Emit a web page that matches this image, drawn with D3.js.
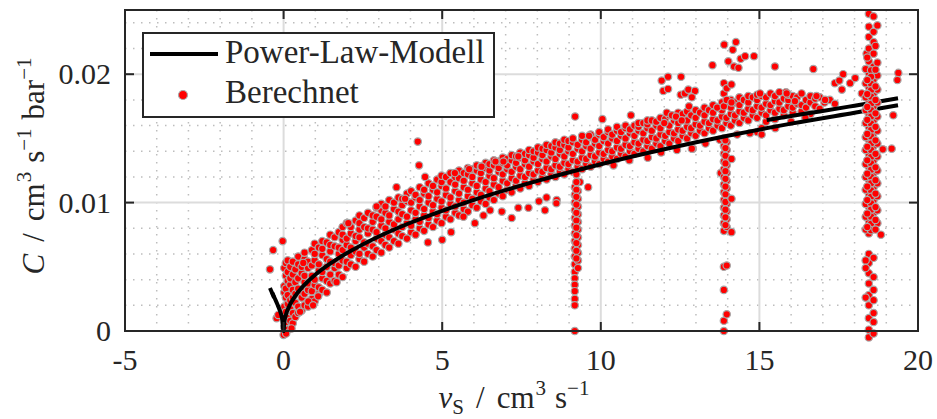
<!DOCTYPE html>
<html>
<head>
<meta charset="utf-8">
<script src="https://cdn.jsdelivr.net/npm/d3@7"></script>
<style>
  body { margin: 0; background: #fff; }
  svg { display: block; }
  text { font-family: "Liberation Serif", "DejaVu Serif", serif; fill: #262626; }
</style>
</head>
<body>
<svg id="chart" width="937" height="419"></svg>
<script>
// axis ticks
const xTicks = [-5, 0, 5, 10, 15, 20];
const yTicks = [0, 0.01, 0.02];

// power-law model, C in 1e-3 units
const modelV = [-0.36, -0.28, -0.2, -0.12, -0.05, 0, 0.02, 0.05, 0.1, 0.2, 0.4, 0.7, 1, 1.5, 2, 3, 4, 5, 6, 8, 10, 12, 14, 16, 18, 19.37];
const modelC = [3.0, 2.55, 2.1, 1.6, 1.0, 0, 0.69, 1.06, 1.48, 2.05, 2.84, 3.70, 4.38, 5.30, 6.07, 7.36, 8.43, 9.36, 10.21, 11.69, 12.99, 14.15, 15.2, 16.15, 17.0, 17.58];
// second model branch (short pieces)
const model2V = [15.23, 16.0, 16.9, 18.0, 19.37];
const model2C = [16.43, 16.75, 17.1, 17.55, 18.12];
const model3V = [-0.43, -0.3];
const model3C = [3.35, 2.6];

// computed points: each row = [v, C values (1e-3) ...]
const bandRows = [
  [0.02, 0.3, 1.2, 1.9, 3.0, 3.5, 4.9],
  [0.07, 0.7, 1.5, 2.6, 3.3, 4.3, 5.3],
  [0.13, 0.1, 1.0, 2.1, 2.8, 3.9, 4.6, 5.5],
  [0.21, 0.8, 1.7, 2.4, 3.6, 4.1, 5.0],
  [0.29, 0.6, 1.4, 2.6, 3.2, 4.4, 5.4],
  [0.37, 1.1, 2.2, 2.9, 3.8, 4.8],
  [0.46, 1.4, 1.9, 3.3, 4.1, 5.2, 5.8],
  [0.57, 1.6, 2.6, 3.1, 4.5, 5.0],
  [0.66, 2.0, 2.9, 3.8, 4.3, 5.6, 6.1],
  [0.77, 1.9, 3.2, 3.7, 4.9, 5.4],
  [0.89, 2.5, 3.1, 4.3, 5.1, 6.3],
  [0.98, 2.3, 3.6, 4.0, 5.5, 6.0, 6.8],
  [1.11, 2.9, 3.4, 4.7, 5.2, 6.5],
  [1.22, 3.2, 4.1, 4.6, 5.9, 6.4, 7.0],
  [1.36, 3.0, 3.9, 5.0, 5.6, 6.9],
  [1.47, 3.7, 4.4, 5.4, 6.2, 6.7, 7.5],
  [1.61, 3.9, 4.9, 5.3, 6.6, 7.3],
  [1.74, 4.4, 5.1, 6.0, 6.5, 7.7],
  [1.86, 4.2, 5.5, 6.3, 7.1, 7.5, 8.1],
  [1.99, 4.9, 5.4, 6.7, 7.2, 8.4],
  [2.12, 5.2, 5.9, 6.5, 7.6, 8.1],
  [2.27, 5.0, 6.2, 7.0, 7.4, 8.6],
  [2.39, 5.6, 6.0, 7.3, 7.9, 8.4, 9.0],
  [2.54, 5.4, 6.5, 6.9, 8.1, 8.8],
  [2.66, 6.0, 6.8, 7.6, 8.0, 9.2],
  [2.81, 5.8, 6.6, 7.9, 8.5, 9.0],
  [2.93, 6.3, 7.2, 7.7, 8.9, 9.6],
  [3.08, 6.1, 7.0, 8.2, 8.7, 9.4, 9.9],
  [3.21, 6.7, 7.5, 8.0, 9.2, 9.7],
  [3.33, 6.5, 7.3, 8.5, 9.0, 10.2],
  [3.48, 7.0, 7.9, 8.3, 9.5, 10.0],
  [3.62, 6.8, 7.6, 8.7, 9.3, 10.4],
  [3.74, 7.4, 8.1, 9.1, 9.8, 10.3],
  [3.89, 7.2, 8.4, 8.9, 10.1, 10.7],
  [4.02, 7.7, 8.2, 9.4, 10.0, 10.9],
  [4.16, 7.5, 8.7, 9.2, 10.4, 10.6],
  [4.29, 8.0, 8.5, 9.7, 10.2, 11.2],
  [4.43, 7.8, 9.0, 9.5, 10.7, 11.0],
  [4.57, 8.3, 8.8, 10.0, 10.5, 11.5],
  [4.71, 8.1, 9.3, 9.8, 11.0, 11.3],
  [4.84, 8.6, 9.1, 10.3, 10.8, 11.8],
  [4.98, 8.4, 9.6, 10.1, 11.3, 11.6, 12.1],
  [5.12, 8.9, 9.4, 10.6, 11.1, 12.0],
  [5.26, 8.7, 9.9, 10.4, 11.6, 12.3],
  [5.41, 9.2, 9.7, 10.9, 11.4, 12.0],
  [5.53, 9.0, 10.2, 10.7, 11.9, 12.5],
  [5.68, 9.5, 10.0, 11.2, 11.7, 12.3],
  [5.81, 9.3, 10.5, 11.0, 12.2, 12.7],
  [5.95, 9.8, 10.3, 11.5, 12.0, 12.6],
  [6.09, 9.6, 10.8, 11.3, 12.5, 12.9],
  [6.22, 10.1, 10.6, 11.8, 12.3, 12.8],
  [6.37, 9.9, 11.1, 11.6, 12.7, 13.1],
  [6.49, 10.4, 10.9, 12.1, 12.5, 13.0],
  [6.63, 10.2, 11.4, 11.9, 12.9, 13.3],
  [6.78, 10.7, 11.2, 12.4, 12.7, 13.2],
  [6.91, 10.5, 11.7, 12.2, 13.1, 13.5],
  [7.05, 11.0, 11.5, 12.6, 12.9, 13.4],
  [7.19, 10.8, 11.9, 12.4, 13.3, 13.7],
  [7.33, 11.3, 11.7, 12.8, 13.1, 13.6],
  [7.46, 11.1, 12.1, 12.6, 13.5, 13.9],
  [7.61, 11.5, 12.0, 13.0, 13.3, 13.8],
  [7.74, 11.3, 12.3, 12.8, 13.7, 14.1],
  [7.88, 11.8, 12.2, 13.2, 13.5, 14.0],
  [8.02, 11.6, 12.5, 13.0, 13.9, 14.3],
  [8.16, 12.0, 12.4, 13.4, 13.7, 14.2],
  [8.29, 11.8, 12.7, 13.2, 14.1, 14.5],
  [8.44, 12.2, 12.6, 13.6, 13.9, 14.4],
  [8.57, 12.0, 12.9, 13.4, 14.3, 14.7],
  [8.71, 12.4, 12.8, 13.8, 14.1, 14.6],
  [8.85, 12.2, 13.1, 13.6, 14.5, 14.9],
  [8.98, 12.6, 13.0, 14.0, 14.3, 14.8],
  [9.12, 12.4, 13.3, 13.8, 14.7, 15.0],
  [9.27, 12.8, 13.2, 14.2, 14.5],
  [9.41, 12.6, 13.5, 14.0, 14.9, 15.2],
  [9.54, 13.0, 13.4, 14.4, 14.7],
  [9.68, 12.8, 13.7, 14.2, 15.1, 15.3],
  [9.82, 13.2, 13.6, 14.6, 14.9],
  [9.95, 13.0, 13.9, 14.4, 15.3, 15.5],
  [10.09, 13.4, 13.8, 14.8, 15.1],
  [10.23, 13.2, 14.1, 14.6, 15.5, 15.7],
  [10.36, 13.6, 14.0, 15.0, 15.3],
  [10.51, 13.4, 14.3, 14.8, 15.6, 15.9],
  [10.64, 13.8, 14.2, 15.2, 15.5],
  [10.78, 13.6, 14.5, 15.0, 15.8, 16.0],
  [10.92, 14.0, 14.4, 15.4, 15.7],
  [11.06, 13.8, 14.7, 15.2, 16.0],
  [11.19, 14.2, 14.6, 15.6, 15.9, 16.2],
  [11.34, 14.0, 14.9, 15.4, 16.2],
  [11.47, 14.4, 14.8, 15.8, 16.1, 16.4],
  [11.61, 14.2, 15.1, 15.6, 16.4],
  [11.75, 14.6, 15.0, 16.0, 16.3],
  [11.88, 14.4, 15.3, 15.8, 16.6],
  [12.03, 14.8, 15.2, 16.2, 16.5],
  [12.16, 14.6, 15.5, 16.0, 16.8],
  [12.31, 15.0, 15.4, 16.4, 16.7],
  [12.44, 14.8, 15.7, 16.2, 17.0],
  [12.58, 15.2, 15.6, 16.6, 16.9],
  [12.72, 15.0, 15.9, 16.4, 17.1],
  [12.85, 15.4, 15.8, 16.8],
  [12.99, 15.2, 16.1, 16.6, 17.2],
  [13.13, 15.6, 16.0, 17.0],
  [13.27, 15.4, 16.3, 16.8, 17.4],
  [13.41, 15.8, 16.2, 17.2],
  [13.54, 15.6, 16.5, 17.0, 17.6],
  [13.68, 16.0, 16.4, 17.4],
  [13.82, 15.8, 16.7, 17.2, 17.8],
  [13.96, 16.2, 16.6, 17.6],
  [14.10, 16.0, 16.9, 17.4, 18.0],
  [14.23, 16.4, 16.8, 17.8],
  [14.37, 16.2, 17.1, 17.6, 18.2],
  [14.51, 16.6, 17.0, 18.0],
  [14.65, 16.4, 17.3, 17.8, 18.3],
  [14.79, 16.8, 17.2, 18.2],
  [14.93, 15.5, 16.6, 17.5, 18.0, 18.4],
  [15.07, 15.8, 17.0, 17.4, 18.3],
  [15.21, 16.3, 16.8, 17.7, 18.2],
  [15.35, 17.2, 17.6, 18.5],
  [15.49, 16.5, 17.0, 17.9, 18.3],
  [15.63, 17.3, 17.8, 18.6],
  [15.77, 16.8, 17.2, 18.1],
  [15.91, 17.5, 18.0, 18.4],
  [16.05, 17.0, 17.4, 18.3],
  [16.19, 17.7, 18.2],
  [16.33, 17.1, 17.6, 18.5],
  [16.47, 17.4, 18.0],
  [16.61, 16.9, 17.8, 18.3],
  [16.76, 17.5, 18.1],
  [16.90, 17.3, 18.2],
  [17.05, 17.8],
  [17.22, 18.0],
  [17.38, 17.7]
];

// vertical clusters at v ≈ 9.2 and 13.9
const columnRows = [
  [9.18, 11.2, 10.6, 10.0, 9.4, 8.8, 8.2, 7.6, 7.0, 6.4, 5.8, 5.2, 4.6, 4.1, 3.6, 3.1, 2.5, 2.0, 0.0],
  [9.28, 10.9, 10.3, 9.7, 9.1, 8.5, 7.9, 7.3, 6.7, 6.1, 5.5, 4.9],
  [9.23, 11.6, 12.2, 11.0, 10.45, 9.85, 9.2, 8.6, 8.05, 7.45, 6.85, 6.25, 5.65],
  [13.88, 19.3, 18.5, 17.5, 15.0, 14.4, 13.8, 13.2, 12.6, 12.0, 11.4, 10.8, 10.2, 9.6, 9.0, 8.4, 7.8, 5.0, 3.2, 0.8, 0.0],
  [13.97, 18.9, 18.0, 14.7, 14.1, 13.5, 12.9, 12.3, 11.7, 11.1, 10.5, 9.9, 9.3, 8.7, 8.1, 5.1, 1.3],
  [13.93, 14.85, 14.25, 13.65, 13.05, 12.45, 11.85, 11.25, 10.65, 10.05, 9.45, 8.85, 8.25],
  [14.12, 19.2, 17.8, 13.4, 10.3, 7.7]
];
// vertical cluster at v ≈ 18.5 (drawn over the model lines)
const lastColumnRows = [
  [18.45, 24.7, 23.7, 22.9, 22.0, 21.0, 20.1, 19.0, 18.0, 16.9, 15.9, 14.9, 13.8, 12.8, 11.8, 10.7, 9.7, 8.6, 7.6, 6.0, 5.3, 4.5, 3.7, 2.8, 2.0, 1.0, 0.1, -0.5],
  [18.60, 24.5, 23.3, 22.5, 21.6, 20.6, 19.6, 18.5, 17.5, 16.4, 15.4, 14.4, 13.3, 12.3, 11.2, 10.2, 9.2, 8.1, 5.7, 4.2, 3.2, 2.4, 1.4, 0.7, -0.2],
  [18.35, 20.4, 19.3, 18.2, 17.2, 16.2, 15.1, 14.1, 13.0, 12.0, 11.0, 9.9, 8.9, 7.9, 5.5, 4.9, 2.6],
  [18.72, 23.8, 20.9, 19.9, 18.8, 17.8, 16.7, 15.6, 14.6, 13.6, 12.5, 11.5, 10.5, 9.4, 8.4],
  [18.52, 20.3, 19.8, 19.25, 18.75, 18.25, 17.7, 17.2, 16.7, 16.15, 15.65, 15.15, 14.6, 14.1, 13.55, 13.05, 12.55, 12.0, 11.5, 10.95, 10.45, 9.95, 9.45, 8.9, 8.35, 7.85],
  [18.40, 21.3, 19.55, 18.45, 17.45, 16.45, 15.35, 14.35, 13.3, 12.25, 11.25, 10.2, 9.15, 8.1],
  [18.66, 22.2, 20.35, 19.05, 18.0, 16.95, 15.9, 14.85, 13.8, 12.75, 11.75, 10.7, 9.65, 8.65, 7.9]
];

// scattered single points [v, C (1e-3)]
const outliers = [
  [-0.43, 4.8], [-0.33, 6.3], [-0.03, 7.0], [-0.22, 1.0], [-0.17, 1.25], [0.0, -0.3], [0.25, 0.2], [0.08, -0.2],
  [0.52, 1.5], [0.78, 2.3], [0.93, 2.0], [1.09, 2.7], [1.67, 3.8], [0.62, 5.3], [2.04, 8.4], [2.93, 9.7],
  [3.56, 11.2], [3.83, 10.3], [4.23, 14.75], [4.27, 12.9], [4.46, 12.0], [4.55, 6.9], [5.0, 7.1], [5.28, 7.7],
  [5.67, 8.9], [6.03, 8.4], [6.3, 9.0], [6.51, 9.4], [6.88, 9.3], [7.19, 8.8], [7.4, 9.6], [7.72, 9.6],
  [8.05, 10.1], [8.24, 9.4], [8.29, 10.4], [8.61, 10.2], [8.6, 9.95], [9.34, 11.6], [9.6, 11.2],
  [5.4, 12.3], [5.85, 12.6], [6.24, 12.8], [6.68, 13.2], [6.93, 13.2], [7.4, 13.6],
  [9.19, 16.7], [10.05, 16.5], [9.63, 15.2], [10.95, 16.8], [12.0, 16.2],
  [11.92, 19.5], [12.12, 19.8], [12.53, 19.8], [11.97, 18.7], [12.12, 18.85], [12.52, 18.4], [12.65, 18.5],
  [12.76, 18.8], [12.97, 18.7], [12.87, 18.2], [12.78, 17.5], [12.08, 17.0], [12.24, 16.8], [12.37, 16.7],
  [12.55, 16.4], [13.67, 17.4], [15.02, 18.5], [15.84, 18.6],
  [13.89, 22.3], [14.26, 22.5], [14.16, 21.9], [14.02, 21.0], [14.2, 20.6], [14.34, 20.5], [14.41, 21.2],
  [14.55, 21.4], [14.83, 21.4], [13.52, 20.7], [15.49, 20.6], [16.7, 20.4], [17.64, 20.0], [17.38, 19.3],
  [17.52, 19.5], [17.86, 19.3], [18.02, 19.7], [17.6, 18.8], [19.38, 20.1], [19.35, 19.55], [19.22, 16.8],
  [19.17, 14.2], [18.89, 14.15], [18.23, 18.5], [18.38, 21.6], [18.83, 7.5], [13.78, 12.3], [12.9, 14.2],
  [16.8, 18.3], [17.07, 18.0], [16.12, 17.9], [15.86, 18.5],
  [10.9, 13.3], [11.48, 13.5], [11.9, 13.9], [12.4, 14.1], [12.87, 14.2], [13.3, 14.6], [13.75, 14.9],
  [14.3, 15.3], [14.7, 15.4], [15.07, 15.3], [15.5, 15.8], [16.0, 16.3], [16.45, 16.6], [10.4, 12.9]
];

const W = 937, H = 419;
const mLeft = 125, mRight = 918, mTop = 10, mBottom = 331;

const svg = d3.select('#chart');
svg.append('rect').attr('width', W).attr('height', H).attr('fill', '#fff');

const x = d3.scaleLinear().domain([-5, 20]).range([mLeft, mRight]);
const y = d3.scaleLinear().domain([0, 0.025]).range([mBottom, mTop]);

const rowsToPts = rows => rows.flatMap(r => r.slice(1).map(c => [r[0], c / 1000]));
const bandPts = rowsToPts(bandRows).concat(outliers.map(d => [d[0], d[1] / 1000]));
const colPts = rowsToPts(columnRows);
const lastColPts = rowsToPts(lastColumnRows);

// minor grid (dotted)
const grid = svg.append('g');
d3.range(-4, 20).filter(v => v % 5 !== 0).forEach(v => {
  grid.append('line').attr('x1', x(v)).attr('x2', x(v)).attr('y1', mTop).attr('y2', mBottom)
    .attr('stroke', '#bdbdbd').attr('stroke-width', 1.5).attr('stroke-dasharray', '1.5,6.5');
});
d3.range(1, 13).map(i => i * 0.002).filter(v => Math.abs(v - 0.01) > 1e-6 && Math.abs(v - 0.02) > 1e-6).forEach(v => {
  grid.append('line').attr('x1', mLeft).attr('x2', mRight).attr('y1', y(v)).attr('y2', y(v))
    .attr('stroke', '#bdbdbd').attr('stroke-width', 1.5).attr('stroke-dasharray', '1.5,6.5');
});
// major grid
xTicks.slice(1, -1).forEach(v => {
  grid.append('line').attr('x1', x(v)).attr('x2', x(v)).attr('y1', mTop).attr('y2', mBottom)
    .attr('stroke', '#dcdcdc').attr('stroke-width', 2);
});
yTicks.slice(1).forEach(v => {
  grid.append('line').attr('x1', mLeft).attr('x2', mRight).attr('y1', y(v)).attr('y2', y(v))
    .attr('stroke', '#dcdcdc').attr('stroke-width', 2);
});

function dots(pts) {
  svg.append('g').selectAll('circle').data(pts).enter()
    .append('circle')
    .attr('cx', d => x(d[0]))
    .attr('cy', d => y(d[1]))
    .attr('r', 3.7)
    .attr('fill', '#ff0000')
    .attr('stroke', '#a9a9a9')
    .attr('stroke-width', 1.2);
}

dots(bandPts);
dots(colPts);

const line = d3.line().x(d => x(d[0])).y(d => y(d[1] / 1000)).curve(d3.curveMonotoneX);
function modelPath(vs, cs) {
  svg.append('path').datum(vs.map((v, i) => [v, cs[i]]))
    .attr('d', line).attr('fill', 'none').attr('stroke', '#000')
    .attr('stroke-width', 4).attr('stroke-linejoin', 'round');
}
modelPath(modelV, modelC);
modelPath(model2V, model2C);
modelPath(model3V, model3C);

dots(lastColPts);

// frame with inward ticks
const frame = svg.append('g');
frame.append('rect').attr('x', mLeft).attr('y', mTop).attr('width', mRight - mLeft).attr('height', mBottom - mTop)
  .attr('fill', 'none').attr('stroke', '#262626').attr('stroke-width', 2);
xTicks.forEach(v => {
  frame.append('line').attr('x1', x(v)).attr('x2', x(v)).attr('y1', mBottom).attr('y2', mBottom - 9).attr('stroke', '#262626').attr('stroke-width', 2);
  frame.append('line').attr('x1', x(v)).attr('x2', x(v)).attr('y1', mTop).attr('y2', mTop + 9).attr('stroke', '#262626').attr('stroke-width', 2);
  frame.append('text').attr('x', x(v)).attr('y', 370).attr('text-anchor', 'middle')
    .attr('font-size', 30).text(v);
});
yTicks.forEach(v => {
  frame.append('line').attr('x1', mLeft).attr('x2', mLeft + 9).attr('y1', y(v)).attr('y2', y(v)).attr('stroke', '#262626').attr('stroke-width', 2);
  frame.append('line').attr('x1', mRight).attr('x2', mRight - 9).attr('y1', y(v)).attr('y2', y(v)).attr('stroke', '#262626').attr('stroke-width', 2);
  frame.append('text').attr('x', 111).attr('y', y(v) + 10).attr('text-anchor', 'end')
    .attr('font-size', 30).text(v === 0 ? '0' : d3.format('.2f')(v));
});

// axis labels
const xl = svg.append('text').attr('x', 514).attr('y', 408).attr('text-anchor', 'middle').attr('font-size', 31);
xl.append('tspan').attr('font-style', 'italic').text('v');
xl.append('tspan').attr('font-size', 21).attr('dy', 6).text('S');
xl.append('tspan').attr('dy', -6).attr('dx', 12).text('/');
xl.append('tspan').attr('dx', 12).text('cm');
xl.append('tspan').attr('font-size', 21).attr('dy', -13).attr('dx', 1).text('3');
xl.append('tspan').attr('dy', 13).attr('dx', 9).text('s');
xl.append('tspan').attr('font-size', 21).attr('dy', -13).text('−1');

const yl = svg.append('text').attr('transform', 'translate(44,166) rotate(-90)').attr('text-anchor', 'middle').attr('font-size', 31);
yl.append('tspan').attr('font-style', 'italic').text('C');
yl.append('tspan').attr('dx', 12).text('/');
yl.append('tspan').attr('dx', 12).text('cm');
yl.append('tspan').attr('font-size', 21).attr('dy', -13).attr('dx', 1).text('3');
yl.append('tspan').attr('dy', 13).attr('dx', 9).text('s');
yl.append('tspan').attr('font-size', 21).attr('dy', -13).text('−1');
yl.append('tspan').attr('dy', 13).attr('dx', 9).text('bar');
yl.append('tspan').attr('font-size', 21).attr('dy', -13).text('−1');

// legend
const lg = svg.append('g');
lg.append('rect').attr('x', 143).attr('y', 33).attr('width', 351).attr('height', 84)
  .attr('fill', '#fff').attr('stroke', '#262626').attr('stroke-width', 2);
lg.append('line').attr('x1', 150).attr('x2', 218).attr('y1', 54).attr('y2', 54).attr('stroke', '#000').attr('stroke-width', 4);
lg.append('circle').attr('cx', 183).attr('cy', 95).attr('r', 4.5).attr('fill', '#ff0000').attr('stroke', '#a9a9a9').attr('stroke-width', 1.2);
lg.append('text').attr('x', 225).attr('y', 63).attr('font-size', 33).text('Power-Law-Modell');
lg.append('text').attr('x', 225).attr('y', 103).attr('font-size', 33).text('Berechnet');
</script>
</body>
</html>
